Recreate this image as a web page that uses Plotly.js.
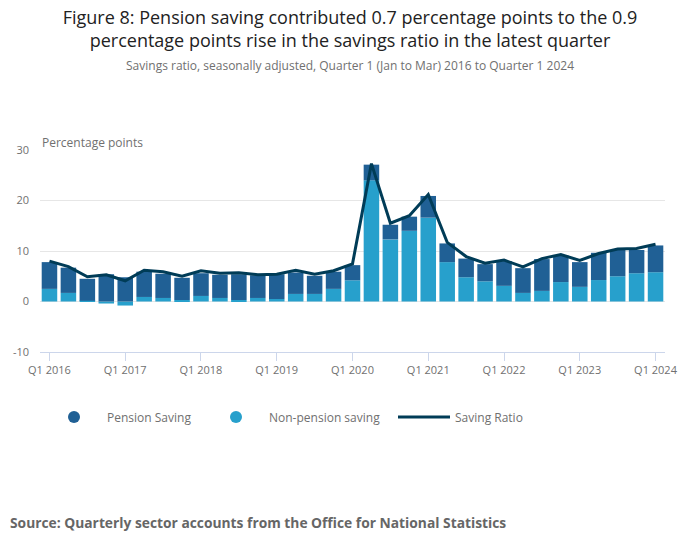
<!DOCTYPE html>
<html>
<head>
<meta charset="utf-8">
<script src="https://cdn.plot.ly/plotly-3.0.1.min.js"></script>
<style>
  body { margin: 0; background: #fff; }
  #chart { width: 700px; height: 549px; }
</style>
</head>
<body>
<div id="chart"></div>
<script>
const quarters = [
    "Q1 2016", "Q2 2016", "Q3 2016", "Q4 2016",
    "Q1 2017", "Q2 2017", "Q3 2017", "Q4 2017",
    "Q1 2018", "Q2 2018", "Q3 2018", "Q4 2018",
    "Q1 2019", "Q2 2019", "Q3 2019", "Q4 2019",
    "Q1 2020", "Q2 2020", "Q3 2020", "Q4 2020",
    "Q1 2021", "Q2 2021", "Q3 2021", "Q4 2021",
    "Q1 2022", "Q2 2022", "Q3 2022", "Q4 2022",
    "Q1 2023", "Q2 2023", "Q3 2023", "Q4 2023",
    "Q1 2024"
]
const tickQuarters = ["Q1 2016", "Q1 2017", "Q1 2018", "Q1 2019", "Q1 2020", "Q1 2021", "Q1 2022", "Q1 2023", "Q1 2024"]
const yTickValues = [-10, 0, 10, 20, 30]
const yTickLabels = ["-10", "0", "10", "20", "30"]

const nonPensionSaving = [
    2.5, 1.7, 0.15, -0.4,
    -0.8, 0.9, 0.7, 0.3,
    1.1, 0.7, 0.3, 0.7,
    0.5, 1.5, 1.5, 2.5,
    4.2, 24.0, 12.3, 14.0,
    16.6, 7.8, 4.8, 4.0,
    3.1, 1.7, 2.1, 3.85,
    2.9, 4.25, 5.0, 5.6,
    5.8
]
const pensionSaving = [
    5.3, 5.0, 4.35, 5.4,
    4.8, 5.0, 4.8, 4.4,
    4.5, 4.6, 5.1, 4.5,
    4.9, 4.25, 3.6, 3.4,
    3.0, 3.1, 2.9, 2.8,
    4.3, 3.7, 3.7, 3.4,
    4.9, 4.9, 6.3, 5.25,
    4.9, 5.4, 5.2, 4.6,
    5.3
]
const savingRatio = [
    8.0, 6.9, 4.9, 5.3,
    4.1, 6.2, 5.9, 5.0,
    6.1, 5.6, 5.7, 5.3,
    5.4, 6.2, 5.4, 6.1,
    7.45, 27.3, 15.5, 17.0,
    21.2, 11.7, 8.9, 7.6,
    8.2, 6.85, 8.5, 9.3,
    8.15, 9.5, 10.4, 10.5,
    11.35
]

const darkBlue = "#206095"
const lightBlue = "#27a0cc"
const lineColour = "#003c57"
const grey = "#707070"
const fontFamily = "Open Sans, sans-serif"

const data = [
    {
        type: "bar",
        name: "Non-pension saving",
        x: quarters,
        y: nonPensionSaving,
        marker: { color: lightBlue },
        showlegend: false,
        hoverinfo: "x+y+name"
    },
    {
        type: "bar",
        name: "Pension Saving",
        x: quarters,
        y: pensionSaving,
        marker: { color: darkBlue },
        showlegend: false,
        hoverinfo: "x+y+name"
    },
    {
        type: "scatter",
        mode: "lines",
        name: "Saving Ratio",
        x: quarters,
        y: savingRatio,
        line: { color: lineColour, width: 3 },
        legend: "legend3"
    },
    // legend-only entries so the bars get round markers like the original
    {
        type: "scatter",
        mode: "markers",
        name: "Pension Saving",
        x: [null],
        y: [null],
        marker: { color: darkBlue, size: 12 },
        legend: "legend"
    },
    {
        type: "scatter",
        mode: "markers",
        name: "Non-pension saving",
        x: [null],
        y: [null],
        marker: { color: lightBlue, size: 12 },
        legend: "legend2"
    }
]

const legendBase = {
    orientation: "h",
    xref: "container",
    yref: "container",
    yanchor: "middle",
    y: 1 - 417 / 549,
    font: { family: fontFamily, size: 12, color: grey },
    bgcolor: "rgba(0,0,0,0)"
}

const layout = {
    width: 700,
    height: 549,
    margin: { l: 40, r: 35, t: 150, b: 197 },
    paper_bgcolor: "#ffffff",
    plot_bgcolor: "#ffffff",
    font: { family: fontFamily, color: grey },
    barmode: "relative",
    bargap: 0.18,
    title: {
        text: "Figure 8: Pension saving contributed 0.7 percentage points to the 0.9<br>percentage points rise in the savings ratio in the latest quarter",
        font: { family: fontFamily, size: 18, color: "#222222" },
        x: 0.5,
        xref: "container",
        y: 1 - 24 / 549,
        yref: "container",
        yanchor: "middle"
    },
    xaxis: {
        type: "category",
        range: [-0.5, 32.5],
        tickvals: tickQuarters,
        ticktext: tickQuarters,
        ticks: "outside",
        ticklen: 8,
        tickcolor: "#ccd6eb",
        showline: true,
        linecolor: "#ccd6eb",
        linewidth: 1,
        showgrid: false,
        tickfont: { family: fontFamily, size: 11, color: grey },
        fixedrange: true
    },
    yaxis: {
        range: [-10, 30],
        tickvals: yTickValues,
        ticktext: yTickLabels,
        gridcolor: "#e6e6e6",
        zeroline: false,
        ticklabelstandoff: 10,
        tickfont: { family: fontFamily, size: 11, color: grey },
        fixedrange: true
    },
    legend: Object.assign({}, legendBase, { x: 41 / 700, itemwidth: 56 }),
    legend2: Object.assign({}, legendBase, { x: 203 / 700, itemwidth: 56 }),
    legend3: Object.assign({}, legendBase, { x: 393 / 700, itemwidth: 52 }),
    annotations: [
        {
            text: "Savings ratio, seasonally adjusted, Quarter 1 (Jan to Mar) 2016 to Quarter 1 2024",
            xref: "paper", yref: "paper",
            x: (350 - 40) / 625, y: (352 - 65) / 202,
            xanchor: "center", yanchor: "middle",
            showarrow: false,
            font: { family: fontFamily, size: 12, color: grey }
        },
        {
            text: "Percentage points",
            xref: "paper", yref: "paper",
            x: 0, y: (352 - 142) / 202,
            xanchor: "left", yanchor: "middle",
            showarrow: false,
            font: { family: fontFamily, size: 12, color: grey }
        },
        {
            text: "<b>Source: Quarterly sector accounts from the Office for National Statistics</b>",
            xref: "paper", yref: "paper",
            x: -32 / 625, y: (352 - 522) / 202,
            xanchor: "left", yanchor: "middle",
            showarrow: false,
            font: { family: fontFamily, size: 13.8, color: "#666666" }
        }
    ]
}

const config = {
    responsive: false,
    displayModeBar: false
}

Plotly.newPlot("chart", data, layout, config)
</script>
</body>
</html>
